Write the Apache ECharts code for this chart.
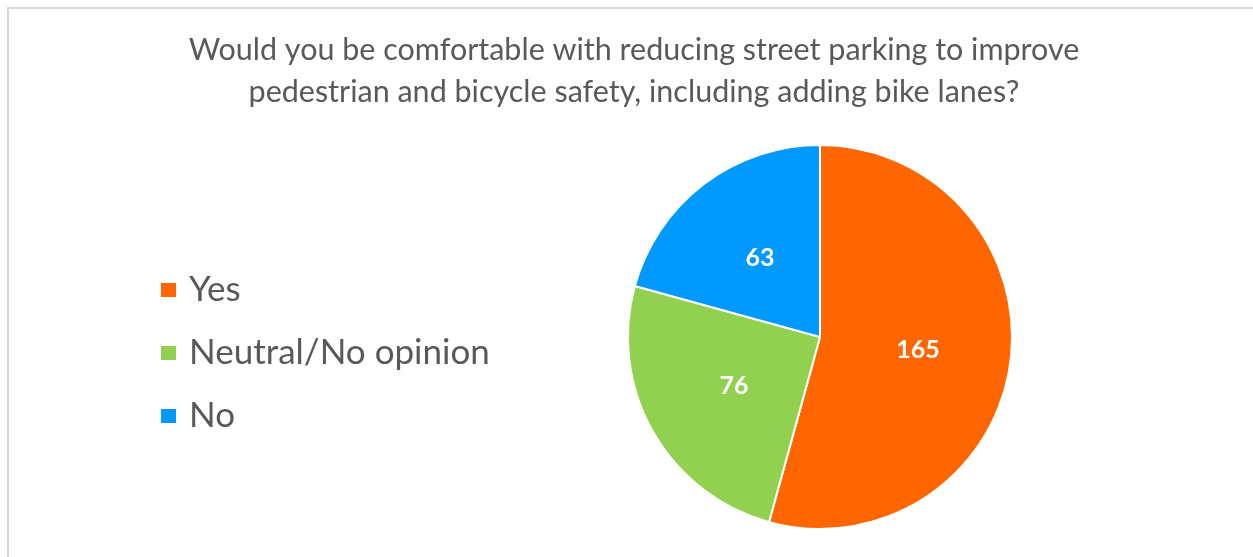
<!DOCTYPE html>
<html>
<head>
<meta charset="utf-8">
<script src="https://cdn.jsdelivr.net/npm/echarts@6/dist/echarts.min.js"></script>
<style>
  html, body { margin: 0; padding: 0; background: #fff; }
  #chart { width: 1253px; height: 557px; }
</style>
</head>
<body>
<div id="chart"></div>
<script>
const titleLines = [
  'Would you be comfortable with reducing street parking to improve',
  'pedestrian and bicycle safety, including adding bike lanes?'
]
const categories = ['Yes', 'Neutral/No opinion', 'No']
const counts = [165, 76, 63]
const colors = ['#FF6600', '#92D050', '#0099FF']

const chart = echarts.init(document.getElementById('chart'))

const option = {
  backgroundColor: '#fff',
  animation: false,
  color: colors,
  title: {
    text: titleLines.join('\n'),
    left: 634,
    textAlign: 'center',
    top: 29,
    padding: 0,
    textStyle: {
      fontFamily: 'Lato',
      fontSize: 30.5,
      fontWeight: 'normal',
      color: '#595959',
      lineHeight: 42
    }
  },
  legend: {
    orient: 'vertical',
    left: 159,
    top: 272,
    padding: 0,
    itemWidth: 17,
    itemHeight: 16,
    itemGap: 27,
    icon: 'rect',
    textStyle: {
      fontFamily: 'Lato',
      fontSize: 35,
      color: '#595959',
      lineHeight: 36,
      padding: [0, 0, 0, 7]
    },
    data: categories
  },
  graphic: [
    {
      type: 'rect',
      shape: { x: 8, y: 8, width: 1300, height: 600 },
      style: { fill: 'none', stroke: '#d9d9d9', lineWidth: 2 },
      silent: true
    }
  ],
  series: [
    {
      type: 'pie',
      center: [820, 337],
      radius: 192,
      startAngle: 90,
      clockwise: true,
      itemStyle: { borderColor: '#fff', borderWidth: 2 },
      label: {
        show: true,
        position: 'inner',
        formatter: '{c}',
        color: '#fff',
        fontFamily: 'Lato',
        fontWeight: 'bold',
        fontSize: 25
      },
      labelLine: { show: false },
      emphasis: { disabled: true },
      data: categories.map((name, i) => ({ name, value: counts[i] }))
    }
  ]
}

chart.setOption(option)
</script>
</body>
</html>
